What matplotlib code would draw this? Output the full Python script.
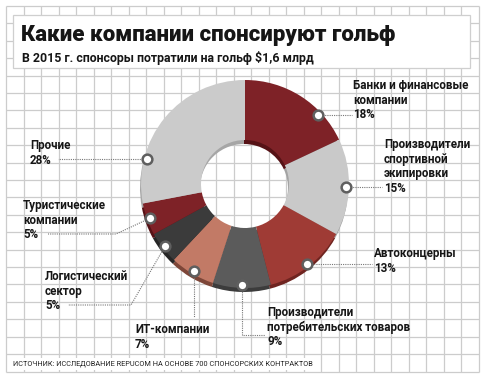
import numpy as np
import matplotlib.pyplot as plt

# Данные
categorias = ['Банки и финансовые\nкомпании', 'Производители\nспортивной\nэкипировки',
              'Автоконцерны', 'Производители\nпотребительских товаров', 'ИТ-компании',
              'Логистический\nсектор', 'Туристические\nкомпании', 'Прочие']
percentuais = [18, 15, 13, 9, 7, 5, 5, 28]
cores = ['#7e2227', '#c9c9c9', '#9f3b35', '#5b5b5b', '#c27a66', '#3b3b3b', '#7e2227', '#cbcbcb']
cores_sombra = ['#561216', '#a3a3a3', '#6f2420', '#3c3c3c', '#7d4638', '#262626', '#561216', '#a6a6a6']

titulo = 'Какие компании спонсируют гольф'
subtitulo = 'В 2015 г. спонсоры потратили на гольф $1,6 млрд'
fonte = 'ИСТОЧНИК: ИССЛЕДОВАНИЕ REPUCOM НА ОСНОВЕ 700 СПОНСОРСКИХ КОНТРАКТОВ'

# posição do marcador dentro da fatia (0..1) e posição do texto (px)
pos_marcador = [0.72, 0.5, 0.5, 0.5, 0.5, 0.5, 0.5, 0.25]
pos_texto = [(353, 79), (384, 138), (374, 247), (267, 306), (135, 323), (45, 270), (23, 199), (30, 139)]
# pontos do cotovelo da linha de chamada (None = reto)
cotovelos = [None, None, None, 'v', 'iv', (131, 305), (116, 234), None]
fim_linha = [(352, None), (382, None), (372, None), (265, 335), (None, 317), (68, 305), (48, 234), (58, None)]

W, H = 488, 380
cx, cy = 245, 184
R = 104
largura = 60

plt.rcParams['font.family'] = ['Roboto', 'DejaVu Sans']

fig = plt.figure(figsize=(W / 100, H / 100), dpi=100)
ax = fig.add_axes([0, 0, 1, 1])

# sombra (efeito 3D) e rosca
ax.pie(percentuais, colors=cores_sombra, startangle=270, counterclock=True,
       radius=R, center=(cx - 1, cy + 4), wedgeprops=dict(width=largura, linewidth=0))
ax.pie(percentuais, colors=cores, startangle=270, counterclock=True,
       radius=R, center=(cx, cy), wedgeprops=dict(width=largura, linewidth=0))

ax.set_xlim(0, W)
ax.set_ylim(H, 0)
ax.set_aspect('equal')
ax.axis('off')

# grade de papel quadriculado
x0, x1, y0, y1 = 6, 479, 6, 371.5
xs = np.arange(x0, x1 + 1, 17.5)
ys = np.linspace(y0, y1, 22)
ax.vlines(xs, y0, y1, color='#cccccc', lw=0.9, zorder=0)
ax.hlines(ys, x0, x1, color='#cccccc', lw=0.9, zorder=0)

# caixa do título
ax.add_patch(plt.Rectangle((13, 15), 457, 53, facecolor='white', edgecolor='#cfcfcf', lw=0.9, zorder=2))
ax.text(21, 41, titulo, fontsize=16, fontweight='heavy', color='#161616', va='baseline', zorder=3)
ax.text(22, 62, subtitulo, fontsize=8.9, fontweight='semibold', color='#161616', va='baseline', zorder=3)

# marcadores e chamadas
acum = np.concatenate([[0], np.cumsum(percentuais)]) / 100
rm = R - 3
for i, cat in enumerate(categorias):
    frac = acum[i] + pos_marcador[i] * (acum[i + 1] - acum[i])
    ang = np.deg2rad(270 + frac * 360)
    mx, my = cx + rm * np.cos(ang), cy + rm * np.sin(ang)
    fx, fy = fim_linha[i]
    c = cotovelos[i]
    if c is None:
        px, py = [mx, fx], [my, my]
    elif c == 'v':
        px, py = [mx, mx, fx], [my, fy, fy]
    elif c == 'iv':
        px, py = [mx, mx], [my, fy]
    else:
        px, py = [mx, c[0], fx], [my, c[1], fy]
    ax.plot(px, py, ls=(0, (1, 1)), color='#777777', lw=0.8, zorder=4)
    ax.plot(mx, my, 'o', ms=7, mfc='white', mec='#5f5f5f', mew=1.8, zorder=5)
    tx, ty = pos_texto[i]
    ax.text(tx, ty, f'{cat}\n{percentuais[i]}%', fontsize=8.4, fontweight='semibold',
            color='#161616', va='top', ha='left', linespacing=1.15, zorder=5)

ax.text(13, 364, fonte, fontsize=5.3, color='#222222', va='center', ha='left', zorder=3,
        bbox=dict(facecolor='white', edgecolor='none', pad=1.5))

fig.savefig('out.png', dpi=100)
